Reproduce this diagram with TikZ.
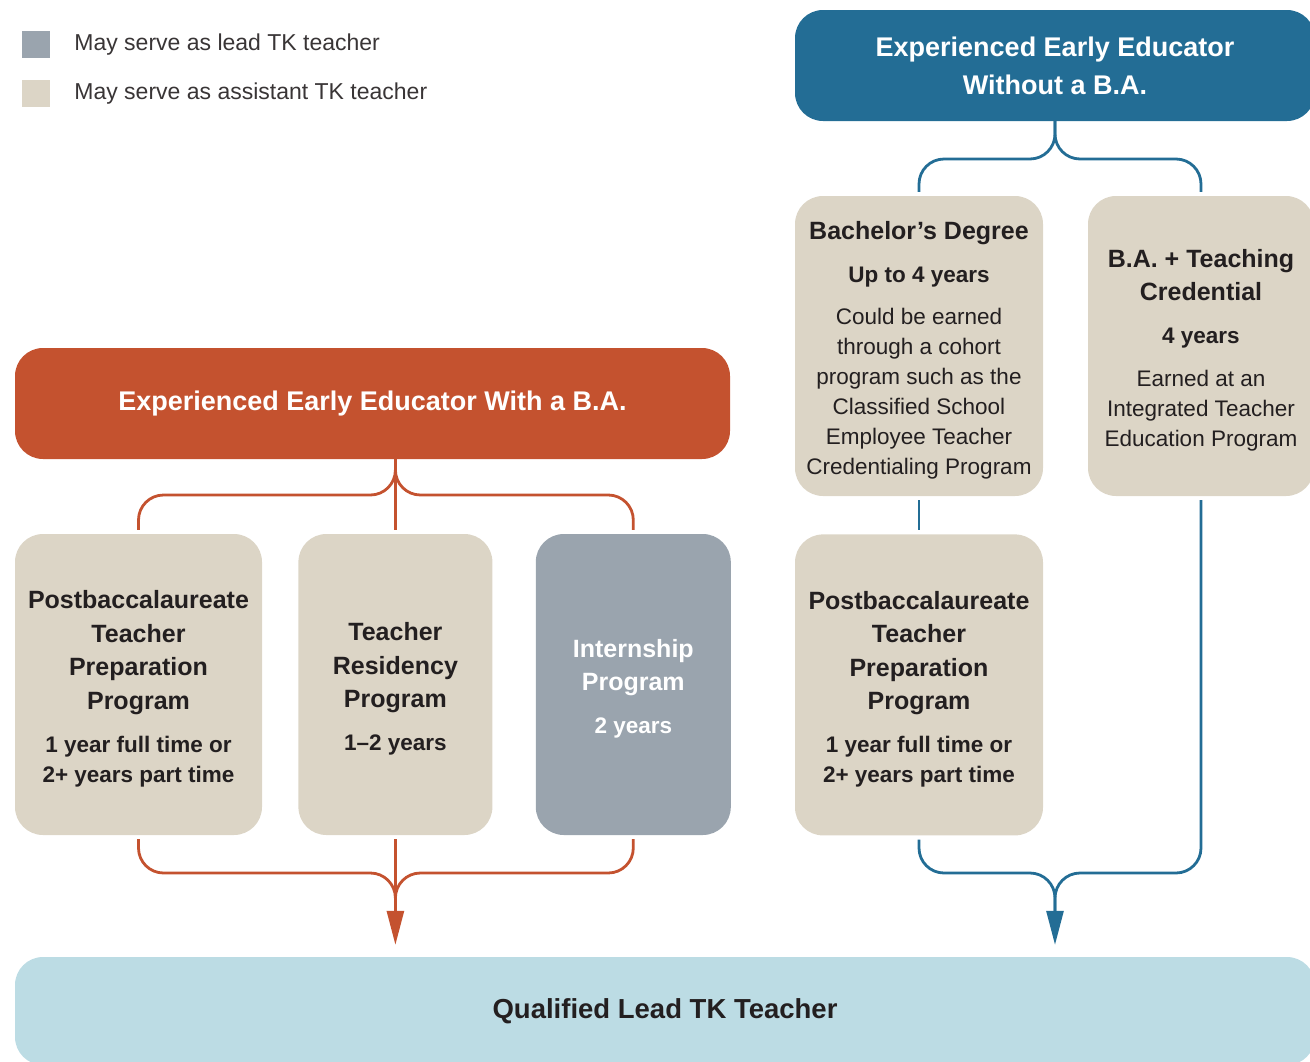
\documentclass[tikz,border=0pt]{standalone}
\usepackage{fontspec}
\setmainfont{Liberation Sans}
\usepackage{tikz}
\usetikzlibrary{arrows.meta,positioning}

\definecolor{rust}{HTML}{C4522F}
\definecolor{steel}{HTML}{236D95}
\definecolor{sand}{HTML}{DCD5C6}
\definecolor{slate}{HTML}{9AA4AE}
\definecolor{sky}{HTML}{BCDCE4}
\definecolor{ink}{HTML}{231F20}

\newcommand{\fixspace}{\spaceskip=\fontdimen2\font\relax\xspaceskip=\fontdimen2\font\relax}
\newcommand{\boxhead}{\fontsize{25}{33.5}\selectfont\bfseries\fixspace}
\newcommand{\boxsub}{\fontsize{22.5}{30}\selectfont\bfseries\fixspace}
\newcommand{\boxbody}{\fontsize{22.5}{30}\selectfont\mdseries\fixspace}

\begin{document}
\begin{tikzpicture}[x=1pt,y=-1pt]
    \tikzset{
      roundbox/.style={rectangle,rounded corners=28pt,inner sep=0pt,align=center,text=ink},
      sandbox/.style={roundbox,fill=sand,minimum height=301pt,font=\boxbody,execute at end node={\par\kern-9pt}},
      topbox/.style={roundbox,minimum height=111pt,text=white,font=\fontsize{27}{38}\selectfont\bfseries},
      keybox/.style={rectangle,minimum width=28pt,minimum height=27pt,inner sep=0pt},
      keytext/.style={anchor=west,inner sep=0pt,text=ink!90,font=\fontsize{23}{26}\selectfont},
      path/.style={line width=2.8pt,rounded corners=25pt},
      arrow/.style={line width=2.8pt,-{Triangle[length=34pt,width=17pt]},shorten >=12pt}
    }
    \useasboundingbox (0,0) rectangle (1310,1061);

    % legend
    \node[keybox,fill=slate](keylead) at (36,44.5){};
    \node[keybox,fill=sand](keyasst) at (36,93.5){};
    \node[keytext,right=24pt of keylead]{May serve as lead TK teacher};
    \node[keytext,right=24pt of keyasst]{May serve as assistant TK teacher};

    % left branch
    \node[topbox,fill=rust,minimum width=715pt](withba) at (372.5,403.5){Experienced Early Educator With a B.A.};
    \node[sandbox,minimum width=247pt,text width=245pt](pbl) at (138.5,684.5){%
      {\boxhead Postbaccalaureate\\Teacher\\Preparation\\Program\par}\vspace{13pt}%
      {\boxsub 1 year full time or\\2+ years part time\par}};
    \node[sandbox,minimum width=194pt,text width=190pt,right=36pt of pbl](res){%
      {\boxhead Teacher\\Residency\\Program\par}\vspace{13pt}%
      {\boxsub 1--2 years\par}};
    \node[sandbox,fill=slate,text=white,minimum width=195pt,text width=190pt,right=43pt of res](intern){%
      {\boxhead Internship\\Program\par}\vspace{13pt}%
      {\boxsub 2 years\par}};

    % right branch
    \node[topbox,fill=steel,minimum width=520pt](noba) at (1055,65.5){Experienced Early Educator\\Without a B.A.};
    \node[sandbox,minimum width=248pt,minimum height=300pt,text width=246pt](bach) at (919,346){%
      {\boxhead Bachelor’s Degree\par}\vspace{13pt}%
      {\boxsub Up to 4 years\par}\vspace{12pt}%
      {\boxbody Could be earned\\through a cohort\\program such as the\\Classified School\\Employee Teacher\\Credentialing Program\par}};
    \node[sandbox,minimum width=226pt,minimum height=300pt,text width=224pt](bateach) at (1201,346){%
      {\boxhead B.A. + Teaching\\Credential\par}\vspace{13pt}%
      {\boxsub 4 years\par}\vspace{13pt}%
      {\boxbody Earned at an\\Integrated Teacher\\Education Program\par}};
    \node[sandbox,minimum width=248pt,text width=246pt,below=38pt of bach](pbr){%
      {\boxhead Postbaccalaureate\\Teacher\\Preparation\\Program\par}\vspace{13pt}%
      {\boxsub 1 year full time or\\2+ years part time\par}};

    \node[roundbox,fill=sky,minimum width=1300pt,minimum height=108pt,font=\fontsize{27.5}{32}\selectfont\bfseries](qual) at (665,1011){Qualified Lead TK Teacher};

    % joints
    \coordinate (ltop) at (res.north |- 0,495);
    \coordinate (lbot) at (res.south |- 0,873);
    \coordinate (rtop) at (noba.south |- 0,159);
    \coordinate (rbot) at (noba.south |- 0,873);

    \draw[path,rust,shorten >=4pt](withba.south -| ltop) |- (ltop -| pbl) -- (pbl.north);
    \draw[path,rust,shorten >=4pt](withba.south -| ltop) |- (ltop -| intern) -- (intern.north);
    \draw[path,rust,shorten >=4pt](withba.south -| ltop) -- (res.north);
    \draw[path,rust,shorten <=4pt,shorten >=40pt](pbl.south) |- (lbot) -- (qual.north -| lbot);
    \draw[path,rust,shorten <=4pt,shorten >=40pt](intern.south) |- (lbot) -- (qual.north -| lbot);
    \draw[arrow,rust,shorten <=4pt](res.south) -- (qual.north -| res);

    \draw[path,steel,shorten >=4pt](noba.south) |- (rtop -| bach) -- (bach.north);
    \draw[path,steel,shorten >=4pt](noba.south) |- (rtop -| bateach) -- (bateach.north);
    \draw[path,steel,shorten <=4pt,shorten >=4pt](bach.south) -- (pbr.north);
    \draw[path,steel,shorten <=4pt,shorten >=40pt](pbr.south) |- (rbot) -- (qual.north -| rbot);
    \draw[path,steel,shorten <=4pt,shorten >=40pt](bateach.south) |- (rbot) -- (qual.north -| rbot);
    \draw[arrow,steel,shorten <=24pt](rbot) -- (qual.north -| rbot);

  \end{tikzpicture}
\end{document}
